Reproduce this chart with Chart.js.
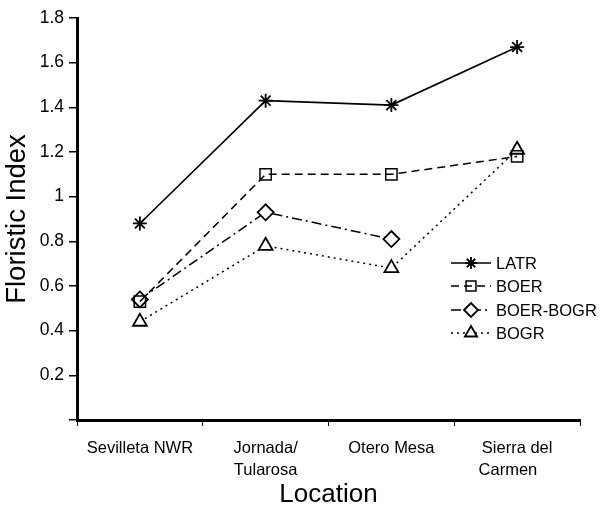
<!DOCTYPE html>
<html>
<head>
<meta charset="utf-8">
<script src="https://cdn.jsdelivr.net/npm/chart.js@4/dist/chart.umd.min.js"></script>
<style>
  html, body { margin: 0; padding: 0; background: #fff; }
  #wrap { width: 600px; height: 511px; }
</style>
</head>
<body>
<div id="wrap"><canvas id="chart" width="600" height="511"></canvas></div>
<script>
// locations on the x axis
const locations = ['Sevilleta NWR', ['Jornada/', 'Tularosa'], 'Otero Mesa', ['Sierra del', 'Carmen    ']];

// floristic index per vegetation type
const latr = [0.88, 1.43, 1.41, 1.67];
const boer = [0.53, 1.10, 1.10, 1.18];
const boerBogr = [0.54, 0.93, 0.81, null];
const bogr = [0.44, 0.78, 0.68, 1.21];

const yTicks = [0, 0.2, 0.4, 0.6, 0.8, 1, 1.2, 1.4, 1.6, 1.8];

const FONT = 'Arial, "Liberation Sans", sans-serif';

// draws the little line + marker + name legend inside the plot
const lineLegend = {
  id: 'lineLegend',
  afterDraw(chart) {
    const ctx = chart.ctx;
    const x0 = 451, x1 = 491, textX = 496;
    const rows = [263, 286, 310, 333];
    chart.data.datasets.forEach((ds, i) => {
      const y = rows[i];
      ctx.save();
      ctx.strokeStyle = '#000';
      ctx.lineWidth = ds.borderWidth;
      ctx.setLineDash(ds.borderDash || []);
      ctx.beginPath();
      ctx.moveTo(x0, y);
      ctx.lineTo(x1, y);
      ctx.stroke();
      ctx.setLineDash([]);
      ctx.fillStyle = ds.pointBackgroundColor;
      ctx.strokeStyle = '#000';
      ctx.lineWidth = ds.pointBorderWidth;
      Chart.helpers.drawPoint(ctx, {
        pointStyle: ds.pointStyle,
        radius: ds.pointRadius - 1,
        borderWidth: ds.pointBorderWidth,
        rotation: 0
      }, (x0 + x1) / 2, y);
      ctx.fillStyle = '#000';
      ctx.font = '16.5px ' + FONT;
      ctx.textBaseline = 'middle';
      ctx.fillText(ds.label, textX, y + 1);
      ctx.restore();
    });
  }
};

new Chart(document.getElementById('chart'), {
  type: 'line',
  data: {
    labels: locations,
    datasets: [
      {
        label: 'LATR', data: latr,
        borderColor: '#000', borderWidth: 1.6,
        pointStyle: 'star', pointRadius: 7, pointBorderWidth: 1.8,
        pointBorderColor: '#000', pointBackgroundColor: '#000'
      },
      {
        label: 'BOER', data: boer,
        borderColor: '#000', borderWidth: 1.5, borderDash: [8, 5],
        pointStyle: 'rect', pointRadius: 8, pointBorderWidth: 1.5,
        pointBorderColor: '#000', pointBackgroundColor: 'rgba(255,255,255,0)'
      },
      {
        label: 'BOER-BOGR', data: boerBogr,
        borderColor: '#000', borderWidth: 1.5, borderDash: [10, 4, 2, 4],
        pointStyle: 'rectRot', pointRadius: 8, pointBorderWidth: 1.8,
        pointBorderColor: '#000', pointBackgroundColor: '#fff'
      },
      {
        label: 'BOGR', data: bogr,
        borderColor: '#000', borderWidth: 1.5, borderDash: [2, 4],
        pointStyle: 'triangle', pointRadius: 8, pointBorderWidth: 1.8,
        pointBorderColor: '#000', pointBackgroundColor: '#fff'
      }
    ]
  },
  options: {
    responsive: false,
    animation: false,
    spanGaps: false,
    layout: { padding: { top: 18, right: 20, left: 0, bottom: 0 } },
    plugins: {
      legend: { display: false },
      tooltip: { enabled: false }
    },
    scales: {
      x: {
        offset: true,
        grid: { offset: true, drawOnChartArea: false, drawTicks: true, tickLength: 6, color: '#000', lineWidth: 1 },
        border: { color: '#000', width: 3 },
        ticks: { color: '#000', font: { family: FONT, size: 16.5, lineHeight: 1.3 }, padding: 12, maxRotation: 0, autoSkip: false },
        title: { display: true, text: 'Location', color: '#000', font: { family: FONT, size: 26 }, padding: { top: 4, bottom: 1 } },
        afterFit(scale) { scale.height = 91; }
      },
      y: {
        min: 0, max: 1.8,
        afterBuildTicks(scale) { scale.ticks = yTicks.map(v => ({ value: v })); },
        grid: { drawOnChartArea: false, drawTicks: true, tickLength: 8, color: '#000', lineWidth: 1.5 },
        border: { color: '#000', width: 3 },
        ticks: {
          color: '#000', font: { family: FONT, size: 17.5 }, padding: 5,
          callback: v => v === 0 ? '' : String(Math.round(v * 10) / 10)
        },
        title: { display: true, text: 'Floristic Index', color: '#000', font: { family: FONT, size: 27.5 }, padding: { top: 1, bottom: 4 } },
        afterFit(scale) { scale.width = 77; }
      }
    }
  },
  plugins: [lineLegend]
});
</script>
</body>
</html>
